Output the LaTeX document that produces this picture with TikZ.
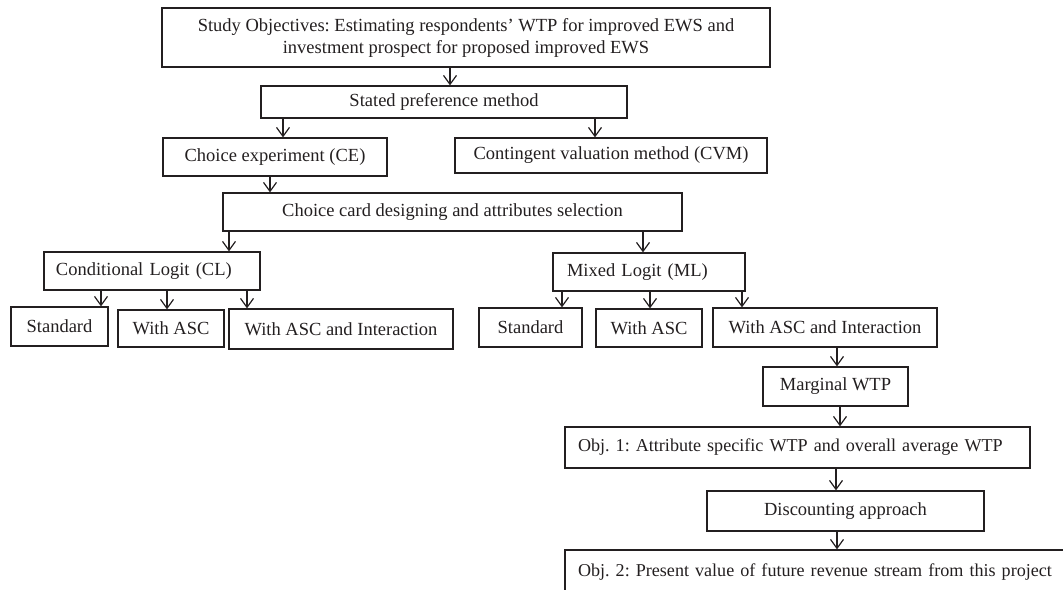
\documentclass[tikz,border=0pt]{standalone}
\usepackage{fontspec}
\setmainfont{Liberation Serif}
\usetikzlibrary{arrows.meta}
\definecolor{ink}{HTML}{231F20}
\begin{document}
\frenchspacing
\begin{tikzpicture}[x=1bp,y=-1bp,
  box/.style={draw=ink,line width=1.2bp,text=ink,inner sep=0pt,align=center,
    font=\fontsize{18.5bp}{22bp}\selectfont\frenchspacing},
  lbox/.style={box,align=left,inner xsep=12bp},
  narrow/.style={font=\fontsize{18.1bp}{22bp}\selectfont\frenchspacing},
  arr/.style={draw=ink,line width=1.2bp,-{Straight Barb[length=9bp,width=13bp,line width=1.2bp]}}]
\useasboundingbox (0,0) rectangle (1063,590);
\clip (0,0) rectangle (1063,590);
\node[box,minimum width=608bp,minimum height=59bp] (top) at (466,37.5)
  {Study Objectives: Estimating respondents’ WTP for improved EWS and\\investment prospect for proposed improved EWS};
\node[box,minimum width=366bp,minimum height=32bp] (stated) at (444,102) {Stated preference method};
\node[box,minimum width=224bp,minimum height=38bp] (ce) at (275,157) {Choice experiment (CE)};
\node[box,minimum width=312bp,minimum height=35bp] (cvm) at (611,155.5) {Contingent valuation method (CVM)};
\node[box,minimum width=459bp,minimum height=38bp] (card) at (452.5,212) {Choice card designing and attributes selection};
\node[lbox,text width=192bp,minimum height=38bp] (cl) at (152,271) {\mbox{Conditional Logit (CL)}};
\node[box,minimum width=97bp,minimum height=39bp] (s1) at (59.5,326.5) {Standard};
\node[box,minimum width=106bp,minimum height=37bp] (a1) at (171,328.5) {With ASC};
\node[box,minimum width=224bp,minimum height=40bp] (i1) at (341,329) {With ASC and Interaction};
\node[lbox,inner xsep=14bp,text width=164bp,minimum height=38bp] (ml) at (649,272) {\mbox{Mixed Logit (ML)}};
\node[box,minimum width=103bp,minimum height=39bp] (s2) at (530.5,327.5) {Standard};
\node[box,minimum width=106bp,minimum height=38bp] (a2) at (649,328) {With ASC};
\node[box,minimum width=224bp,minimum height=39bp] (i2) at (825,327.5) {With ASC and Interaction};
\node[box,minimum width=145bp,minimum height=39bp] (mwtp) at (835.5,386.5) {Marginal WTP};
\node[lbox,narrow,inner xsep=13bp,text width=439bp,minimum height=41bp] (obj1) at (797.5,447.5) {\mbox{Obj. 1: Attribute specific WTP and overall average WTP}};
\node[box,minimum width=277bp,minimum height=40bp] (disc) at (845.5,511) {Discounting approach};
\node[lbox,narrow,inner xsep=13bp,text width=489bp,minimum height=44bp] (obj2) at (822.5,572) {\mbox{Obj. 2: Present value of future revenue stream from this project}};
\draw[arr] (top.south -| 450,0) -- (stated.north -| 450,0);
\draw[arr] (stated.south -| 283,0) -- (ce.north -| 283,0);
\draw[arr] (stated.south -| 595,0) -- (cvm.north -| 595,0);
\draw[arr] (ce.south -| 270,0) -- (card.north -| 270,0);
\draw[arr] (card.south -| 229,0) -- (cl.north -| 229,0);
\draw[arr] (card.south -| 643,0) -- (ml.north -| 643,0);
\draw[arr] (cl.south -| 101,0) -- (s1.north -| 101,0);
\draw[arr] (cl.south -| 167,0) -- (a1.north -| 167,0);
\draw[arr] (cl.south -| 247,0) -- (i1.north -| 247,0);
\draw[arr] (ml.south -| 562,0) -- (s2.north -| 562,0);
\draw[arr] (ml.south -| 650,0) -- (a2.north -| 650,0);
\draw[arr] (ml.south -| 742,0) -- (i2.north -| 742,0);
\draw[arr] (i2.south -| 837,0) -- (mwtp.north -| 837,0);
\draw[arr] (mwtp.south -| 840,0) -- (obj1.north -| 840,0);
\draw[arr] (obj1.south -| 836,0) -- (disc.north -| 836,0);
\draw[arr] (disc.south -| 837,0) -- (obj2.north -| 837,0);
\end{tikzpicture}
\end{document}
